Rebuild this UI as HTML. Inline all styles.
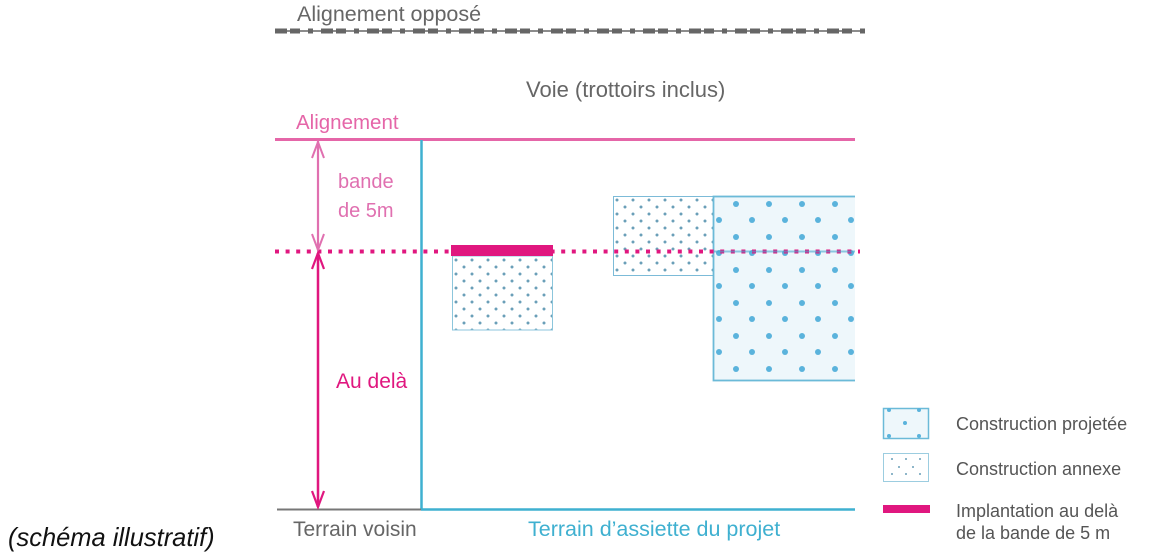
<!DOCTYPE html>
<html><head><meta charset="utf-8"><style>
html,body{margin:0;padding:0;background:#fff;}
svg{display:block;}
text{font-family:"Liberation Sans",sans-serif;}
</style></head><body>
<svg width="1158" height="555" viewBox="0 0 1158 555" xmlns="http://www.w3.org/2000/svg">
<defs>
<pattern id="small" x="452" y="256" width="16" height="14" patternUnits="userSpaceOnUse">
<circle cx="4" cy="4" r="1.5" fill="#6a9fb8"/><circle cx="12" cy="11" r="1.5" fill="#6a9fb8"/>
</pattern>
<pattern id="small2" x="613" y="196" width="16" height="14" patternUnits="userSpaceOnUse">
<circle cx="4" cy="4" r="1.5" fill="#6a9fb8"/><circle cx="12" cy="11" r="1.5" fill="#6a9fb8"/>
</pattern>
<pattern id="big" x="713" y="196" width="33" height="33" patternUnits="userSpaceOnUse">
<circle cx="6" cy="24" r="3" fill="#5ab3dc"/><circle cx="23" cy="8" r="3" fill="#5ab3dc"/>
</pattern>
</defs>
<text x="297" y="21" font-size="21.5" fill="#666">Alignement opposé</text>
<line x1="275" y1="31" x2="865" y2="31" stroke="#666" stroke-width="1.5"/>
<line x1="275" y1="31" x2="865" y2="31" stroke="#666" stroke-width="5" stroke-dasharray="12 3 10 8 5 8"/>
<text x="526" y="97" font-size="22" fill="#666">Voie (trottoirs inclus)</text>
<text x="296" y="129" font-size="20.5" fill="#e566a8">Alignement</text>
<line x1="275" y1="139.5" x2="855" y2="139.5" stroke="#e566a8" stroke-width="3"/>
<line x1="421.5" y1="140" x2="421.5" y2="510" stroke="#3fb0d0" stroke-width="2.5"/>
<line x1="277" y1="509.5" x2="421" y2="509.5" stroke="#777" stroke-width="2"/>
<line x1="421" y1="509.5" x2="855" y2="509.5" stroke="#3fb0d0" stroke-width="2.5"/>
<rect x="452.5" y="256" width="100" height="74" fill="url(#small)" stroke="#8cc6dc" stroke-width="1"/>
<rect x="613.5" y="196.5" width="100" height="79" fill="url(#small2)" stroke="#7cbbd8" stroke-width="1"/>
<rect x="713.5" y="196.5" width="160" height="184" fill="#eef7fb"/>
<rect x="713.5" y="196.5" width="160" height="184" fill="url(#big)" stroke="#6bbad8" stroke-width="1.8"/>
<rect x="855" y="190" width="30" height="200" fill="#fff"/>
<line x1="275" y1="251.5" x2="860" y2="251.5" stroke="#e0177f" stroke-width="4" stroke-dasharray="4 6.6"/>
<line x1="714" y1="251.5" x2="855" y2="251.5" stroke="#4aa7cf" stroke-width="2" opacity="0.6"/>
<rect x="451" y="245" width="102" height="11" fill="#e0177f"/>
<line x1="318" y1="141" x2="318" y2="250" stroke="#e070b0" stroke-width="2.2"/>
<polyline points="312,158 318,142 324,158" fill="none" stroke="#e070b0" stroke-width="2"/>
<polyline points="312,234 318,250 324,234" fill="none" stroke="#e070b0" stroke-width="2"/>
<line x1="318" y1="253" x2="318" y2="507" stroke="#e0177f" stroke-width="2.5"/>
<polyline points="312,269 318,253 324,269" fill="none" stroke="#e0177f" stroke-width="2.2"/>
<polyline points="312,491 318,507 324,491" fill="none" stroke="#e0177f" stroke-width="2.2"/>
<text x="338" y="188" font-size="20" fill="#e070b0">bande</text>
<text x="338" y="217" font-size="20" fill="#e070b0">de 5m</text>
<text x="336" y="388" font-size="21" fill="#e0177f">Au delà</text>
<text x="293" y="536" font-size="21" fill="#666">Terrain voisin</text>
<text x="528" y="536" font-size="21.5" fill="#3fb0d0">Terrain d’assiette du projet</text>
<text x="8" y="546" font-size="26" font-style="italic" fill="#111" transform="translate(8,0) scale(0.98,1) translate(-8,0)">(schéma illustratif)</text>
<rect x="883.5" y="408.5" width="45" height="30" fill="#eef7fb" stroke="#6bbad8" stroke-width="1.5"/>
<circle cx="905" cy="423" r="2" fill="#5ab3dc"/><circle cx="889" cy="410" r="2" fill="#5ab3dc"/><circle cx="919" cy="410" r="2" fill="#5ab3dc"/><circle cx="889" cy="436" r="2" fill="#5ab3dc"/><circle cx="919" cy="436" r="2" fill="#5ab3dc"/>
<rect x="883.5" y="453.5" width="45" height="28" fill="#fff" stroke="#9ccde0" stroke-width="1"/>
<g fill="#6a9fb8"><circle cx="892" cy="459" r="1"/><circle cx="906" cy="459" r="1"/><circle cx="920" cy="459" r="1"/><circle cx="899" cy="467" r="1"/><circle cx="913" cy="467" r="1"/><circle cx="892" cy="474" r="1"/><circle cx="906" cy="474" r="1"/><circle cx="920" cy="474" r="1"/></g>
<rect x="883" y="505" width="47" height="8" fill="#e0177f"/>
<g font-size="18" fill="#555">
<text x="956" y="430">Construction projetée</text>
<text x="956" y="475">Construction annexe</text>
<text x="956" y="517">Implantation au delà</text>
<text x="956" y="539">de la bande de 5 m</text>
</g>
</svg>
</body></html>
